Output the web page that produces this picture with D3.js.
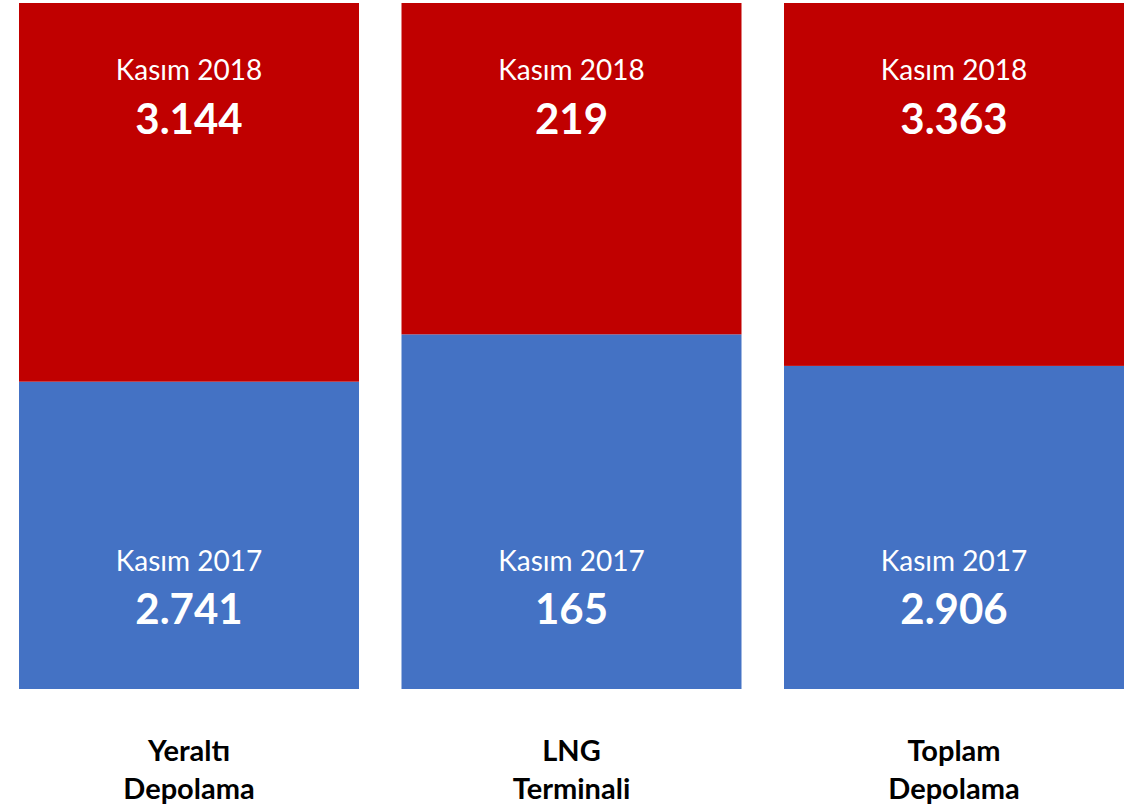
<!DOCTYPE html>
<html><head><meta charset="utf-8">
<script src="https://cdn.jsdelivr.net/npm/d3@7"></script>
<style>body{margin:0;background:#fff}svg{display:block}</style>
</head><body>
<svg id="c" width="1143" height="807"></svg>
<script>
const categories = [["Yeraltı","Depolama"],["LNG","Terminali"],["Toplam","Depolama"]];
const series = ["Kasım 2017","Kasım 2018"];
const values2017 = ["2.741","165","2.906"];
const values2018 = ["3.144","219","3.363"];
// share of each bar taken by the 2017 segment
const share2017 = [0.448, 0.517, 0.471];
const colors = ["#4472C4","#C00000"];

const svg = d3.select("#c");
const font = "Lato, 'Open Sans', sans-serif";
const x = d3.scaleBand().domain(d3.range(categories.length)).range([19,1124]).paddingInner(42.5/382.5).paddingOuter(0);
const y = d3.scaleLinear().domain([0,1]).range([689,3]);

const rows = categories.map((c,i)=>({i, s17: share2017[i]}));
const g = svg.append("g");
g.selectAll("rect.b").data(rows).join("rect").attr("class","b")
  .attr("x",d=>x(d.i)).attr("width",x.bandwidth())
  .attr("y",d=>y(d.s17)).attr("height",d=>y(0)-y(d.s17)).attr("fill",colors[0]);
g.selectAll("rect.r").data(rows).join("rect").attr("class","r")
  .attr("x",d=>x(d.i)).attr("width",x.bandwidth())
  .attr("y",y(1)).attr("height",d=>y(d.s17)-y(1)).attr("fill",colors[1]);

const cx = i => x(i)+x.bandwidth()/2;
function lab(yy, txt, size, weight){
  g.selectAll(null).data(rows).join("text")
    .attr("x",d=>cx(d.i)).attr("y",yy).attr("text-anchor","middle")
    .attr("font-family",font).attr("font-size",size).attr("font-weight",weight)
    .attr("fill","#fff").text(txt);
}
lab(y(1)+77, d=>series[1], 28, 400);
lab(y(1)+131, d=>values2018[d.i], 42, 700);
lab(y(0)-118, d=>series[0], 28, 400);
lab(y(0)-65, d=>values2017[d.i], 42, 700);

const cat = svg.append("g");
cat.selectAll("text").data(rows).join("text")
  .attr("text-anchor","middle").attr("font-family",font).attr("font-size",29).attr("font-weight",700).attr("fill","#000")
  .each(function(d){
    const t = d3.select(this);
    categories[d.i].forEach((line,k)=>{
      t.append("tspan").attr("x",cx(d.i)).attr("y",761+k*38).text(line);
    });
  });
</script>
</body></html>
